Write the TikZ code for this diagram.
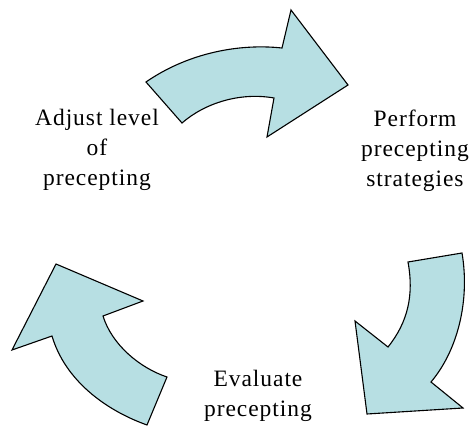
\documentclass[tikz,border=0pt]{standalone}
\usepackage{fontspec}
\setmainfont{Liberation Serif}[LetterSpace=4]
\definecolor{arrowblue}{RGB}{183,223,227}
\tikzset{bigarrow/.style={draw=black, fill=arrowblue, line width=1.1pt, line join=miter},
  steptext/.style={align=center, font=\fontsize{23.5}{30}\selectfont}}

\begin{document}
\begin{tikzpicture}[x=1pt, y=-1pt]
\useasboundingbox (0,0) rectangle (473,427);

% top arrow
\draw[bigarrow] (182,123) -- (146,82) .. controls (185,55) and (235,43) .. (282,48)
	-- (291,10) -- (348,85) -- (267,137) -- (274,98) .. controls (240,92) and (205,103) .. cycle;
% right arrow
\draw[bigarrow] (462,253) -- (408,262) .. controls (414,295) and (408,322) .. (388,347)
	-- (355,321) -- (367,414) -- (463,408) -- (431,382) .. controls (458,350) and (470,300) .. cycle;
% left arrow
\draw[bigarrow] (147,425) -- (167,377) .. controls (140,368) and (112,345) .. (103,316)
	-- (143,301) -- (56,264) -- (12,350) -- (52,336) .. controls (65,380) and (105,410) .. cycle;

\node[steptext] (adjust) at (97,150) {Adjust level\\of\\precepting};
\node[steptext] (perform) at (415,151) {Perform\\precepting\\strategies};
\node[steptext] (evaluate) at (258,396) {Evaluate\\precepting};
\end{tikzpicture}
\end{document}
